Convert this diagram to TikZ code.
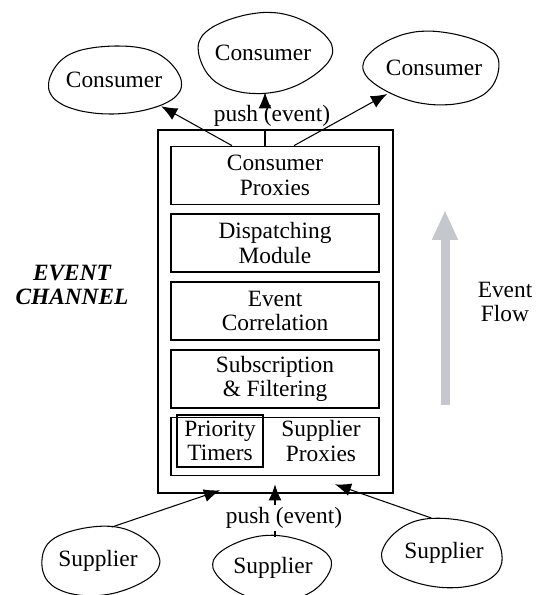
\documentclass[tikz,border=0pt]{standalone}
\usepackage{fontspec}
\setmainfont{Liberation Serif}
\usetikzlibrary{positioning,arrows.meta,shapes.geometric,calc}

\definecolor{flowgray}{RGB}{196,199,203}

% lumpy outline round a node: #2,#3 half axes, #4 phase of the lumps
\newcommand{\blob}[4]{%
  \draw[blobline, shift={(#1.center)}] plot[smooth cycle, domain=0:345, samples=24, variable=\t]
    ({#2*cos(\t)*(1+0.05*sin(3*\t+#4))}, {#3*sin(\t)*(1+0.06*cos(2*\t+#4))});}

\begin{document}
\begin{tikzpicture}[x=0.02cm, y=-0.02cm,
    font=\fontsize{13.3}{14}\selectfont,
    party/.style={ellipse, inner sep=0pt, minimum width=2.66cm, minimum height=1.44cm},
    blobline/.style={line width=0.6pt},
    layer/.style={rectangle, draw, line width=1pt, minimum width=4.16cm, minimum height=1.16cm, align=center},
    flowline/.style={-{Latex[length=3.2mm,width=2.6mm]}, line width=0.6pt}]
  \useasboundingbox (0,0) rectangle (536,595);

  % the channel and its layers
  \node[rectangle, draw, line width=1pt, minimum width=4.7cm, minimum height=7.26cm] (chan) at (275.5,311.5) {};
  \node[layer] (cprox) at (275,175.5) {Consumer\\Proxies};
  \node[layer, below=0.16cm of cprox] (disp) {Dispatching\\Module};
  \node[layer, below=0.16cm of disp] (corr) {Event\\Correlation};
  \node[layer, below=0.16cm of corr] (filt) {Subscription\\\& Filtering};
  \node[layer, below=0.16cm of filt] (sprox) {};
  \node[rectangle, draw, line width=0.9pt, minimum width=1.72cm, minimum height=0.96cm, align=center] (timers) at (220,441) {Priority\\Timers};
  \node[align=center] (suptext) at (321,441) {Supplier\\Proxies};

  \node[align=center, font=\fontsize{13.3}{14}\selectfont\bfseries\itshape] (title) at (72,285) {EVENT\\CHANNEL};

  % consumers
  \node[party] (c1) at (114,80) {Consumer};
  \node[party, minimum height=1.56cm] (c2) at (263,53) {Consumer};
  \node[party, minimum width=2.7cm, minimum height=1.42cm] (c3) at (434,68) {Consumer};
  \blob{c1}{66}{36}{20}
  \blob{c2}{67}{39}{130}
  \blob{c3}{68}{36}{250}

  % suppliers
  \node[party, minimum width=2.36cm, minimum height=1.38cm] (s1) at (98,561) {Supplier};
  \node[party, minimum width=2.36cm, minimum height=1.24cm] (s2) at (273,568) {Supplier};
  \node[party, minimum width=2.38cm, minimum height=1.42cm] (s3) at (444,553) {Supplier};
  \blob{s1}{59}{35}{80}
  \blob{s2}{59}{31}{200}
  \blob{s3}{60}{36}{310}

  % push out to the consumers
  \coordinate (o1) at ($(cprox.north)+(-43,0)$);
  \coordinate (o2) at ($(cprox.north)+(-10,0)$);
  \coordinate (o3) at ($(cprox.north)+(19,0)$);
  \node[inner sep=1pt] (pushtop) at (272,116) {push (event)};
  \draw[flowline] (o1) -- (c1);
  \draw[flowline] (o3) -- (c3);
  \draw[line width=0.6pt] (o2) -- (o2 |- chan.north);
  \draw[flowline] (o2 |- pushtop.north) -- (o2 |- c2.south);

  % push in from the suppliers
  \coordinate (i1) at ($(sprox.south)+(-55,14)$);
  \coordinate (i2) at ($(sprox.south)+(0,8)$);
  \coordinate (i3) at ($(sprox.south)+(60,8)$);
  \node[inner sep=1pt] (pushbot) at (284,518) {push (event)};
  \draw[flowline] (s1.68) -- (i1);
  \draw[flowline] (s3.110) -- (i3);
  \draw[line width=0.6pt] (i2 |- s2.north) -- (i2 |- pushbot.south);
  \draw[flowline] (i2 |- pushbot.north) -- (i2);

  % direction of the event flow
  \coordinate (flowbot) at (445,405);
  \coordinate (flowtop) at (445,210);
  \draw[flowgray, line width=0.18cm, -{Triangle[length=0.6cm,width=0.48cm]}] (flowbot) -- (flowtop);
  \node[align=center] (flow) at (505,302) {Event\\Flow};
\end{tikzpicture}
\end{document}
